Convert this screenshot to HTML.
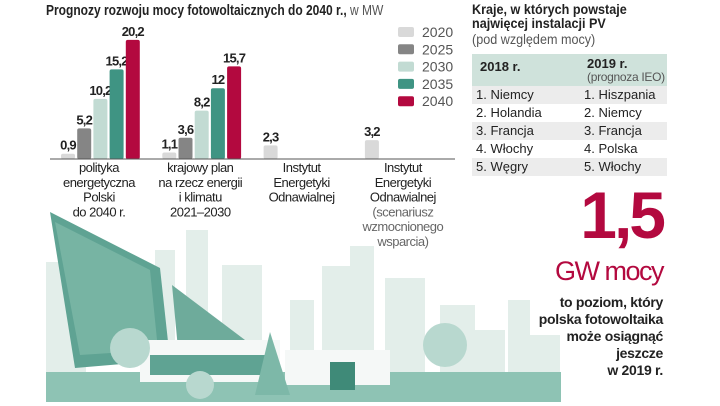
<!DOCTYPE html>
<html><head><meta charset="utf-8"><style>
body{margin:0;width:720px;height:406px;overflow:hidden;background:#fff;font-family:"Liberation Sans",sans-serif;color:#222;position:relative}
.abs{position:absolute;white-space:nowrap}
</style></head><body>
<svg class="abs" style="left:0;top:0" width="720" height="406">
<g fill="#e3eeea">
<rect x="46" y="262" width="40" height="140"/><rect x="155" y="250" width="20" height="150"/><rect x="186" y="230" width="22" height="170"/>
<rect x="222" y="265" width="40" height="135"/><rect x="290" y="300" width="24" height="100"/><rect x="322" y="266" width="30" height="134"/>
<rect x="350" y="246" width="24" height="154"/><rect x="385" y="278" width="40" height="122"/><rect x="440" y="305" width="35" height="97"/>
<rect x="475" y="330" width="30" height="72"/><rect x="508" y="300" width="22" height="102"/><rect x="530" y="335" width="30" height="67"/>
</g>
<polygon points="50,212 160,268 170,360 75,368" fill="#5fa393"/>
<polygon points="55,222 150,270 158,350 80,355" fill="#7db8a8" opacity=".8"/>
<polygon points="172,285 245,340 240,375 180,370" fill="#6eab9b"/>
<rect x="46" y="372" width="515" height="30" fill="#8ec3b4"/>
<rect x="140" y="340" width="140" height="42" fill="#f5f8f7"/><rect x="150" y="355" width="120" height="20" fill="#5fa393"/>
<rect x="285" y="350" width="105" height="35" fill="#f5f8f7"/><rect x="330" y="362" width="25" height="28" fill="#3f8a78"/>
<polygon points="270,332 255,395 290,395" fill="#7db8a8"/>
<circle cx="130" cy="348" r="20" fill="#b8d8cf"/><circle cx="445" cy="345" r="22" fill="#b8d8cf"/><circle cx="200" cy="385" r="14" fill="#b8d8cf"/>
</svg>

<div class="abs" style="left:46px;top:2px;font-size:15px;font-weight:bold;transform:scaleX(.8);transform-origin:0 0">Prognozy rozwoju mocy fotowoltaicznych do 2040 r.,<span style="font-weight:normal;color:#555"> w MW</span></div>

<svg id="chart" class="abs" style="left:0;top:0" width="470" height="250"></svg>

<div class="abs" style="left:472px;top:2px;font-size:14px;font-weight:bold;line-height:14px;transform:scaleX(.9);transform-origin:0 0">Kraje, w których powstaje<br>najwięcej instalacji PV</div>
<div class="abs" style="left:472px;top:31px;font-size:14px;color:#555;transform:scaleX(.9);transform-origin:0 0">(pod względem mocy)</div>
<div class="abs" style="left:472px;top:54px;width:195px;height:32px;background:#cfe2db">
<div class="abs" style="left:8px;top:5px;font-size:13px;font-weight:bold">2018 r.</div>
<div class="abs" style="left:115px;top:3px;font-size:13px;font-weight:bold;line-height:13px">2019 r.<br><span style="font-weight:normal;color:#555;font-size:12px;letter-spacing:-.3px">(prognoza IEO)</span></div>
</div>
<div class="abs" id="tbl" style="left:472px;top:86px;width:195px"></div>

<div class="abs" style="right:57px;top:180px;font-size:66px;font-weight:bold;color:#b3093f;line-height:70px;letter-spacing:-3px">1,5</div>
<div class="abs" style="right:57px;top:256px;font-size:27px;color:#b3093f;line-height:30px;letter-spacing:-1.5px">GW mocy</div>
<div class="abs" style="right:57px;top:294px;font-size:14px;line-height:17px;text-align:right;font-weight:bold;color:#222;letter-spacing:-.3px">to poziom, który<br>polska fotowoltaika<br>może osiągnąć<br>jeszcze<br>w 2019 r.</div>

<script>
const years=["2020","2025","2030","2035","2040"];
const colors=["#d9d9d9","#858585","#c2dbd3","#3f9483","#b3093f"];
const groups=["g1","g2","g3","g4"];
const values=[[0.9,5.2,10.2,15.2,20.2],[1.1,3.6,8.2,12,15.7],[2.3,null,null,null,null],[3.2,null,null,null,null]];
const labels=[["polityka","energetyczna","Polski","do 2040 r."],["krajowy plan","na rzecz energii","i klimatu","2021–2030"],["Instytut","Energetyki","Odnawialnej"],["Instytut","Energetyki","Odnawialnej","(scenariusz","wzmocnionego","wsparcia)"]];
const rows1=["1. Niemcy","2. Holandia","3. Francja","4. Włochy","5. Węgry"];
const rows2=["1. Hiszpania","2. Niemcy","3. Francja","4. Polska","5. Włochy"];
const NS="http://www.w3.org/2000/svg";
const svg=document.getElementById('chart');
const base=159,scale=5.9;
const y=v=>base-v*scale;
const gx=i=>61+i*101.3, bx=j=>j*16.2, bw=14;
function mk(t,a){const e=document.createElementNS(NS,t);for(const k in a)e.setAttribute(k,a[k]);svg.appendChild(e);return e;}
values.forEach((g,i)=>g.forEach((v,j)=>{if(v==null)return;
 const r=mk('rect',{x:gx(i)+bx(j),y:y(v),width:bw,height:base-y(v),fill:colors[j],rx:2});
 
 
 const t=mk('text',{x:gx(i)+bx(j)+bw/2,y:y(v)-4,'text-anchor':'middle','font-size':13,'font-weight':'bold',fill:'#222','letter-spacing':'-0.8'});
 t.textContent=String(v).replace('.',',');
 
 
}));
const ax=mk('line',{x1:50,x2:455,y1:base,y2:base,stroke:'#555','stroke-width':1});


labels.forEach((ls,i)=>ls.forEach((l,k)=>{
 const gray=i==3&&k>=3;
 const t=mk('text',{x:gx(i)+38,y:172+k*14.8,'text-anchor':'middle','font-size':13,fill:gray?'#666':'#222','letter-spacing':'-0.5'});
 t.textContent=l;
 
 
}));
years.forEach((yr,j)=>{
 const r=mk('rect',{x:398,y:27+j*17.3,width:16,height:10,rx:2,fill:colors[j]});
 
 
 const t=mk('text',{x:422,y:37+j*17.3,'font-size':14,fill:'#555'});
 t.textContent=yr;
 
 
});
const tbl=document.getElementById('tbl');
rows1.forEach((r,i)=>{
 const d=document.createElement('div');
 
 
 d.style.cssText='position:relative;height:18px;font-size:13px;line-height:18px;white-space:nowrap;background:'+(i%2==0?'#ececec':'#fff');
 d.innerHTML='<span style="position:absolute;left:4px">'+r+'</span><span style="position:absolute;left:112px">'+rows2[i]+'</span>';
 tbl.appendChild(d);
});
</script>
</body></html>
